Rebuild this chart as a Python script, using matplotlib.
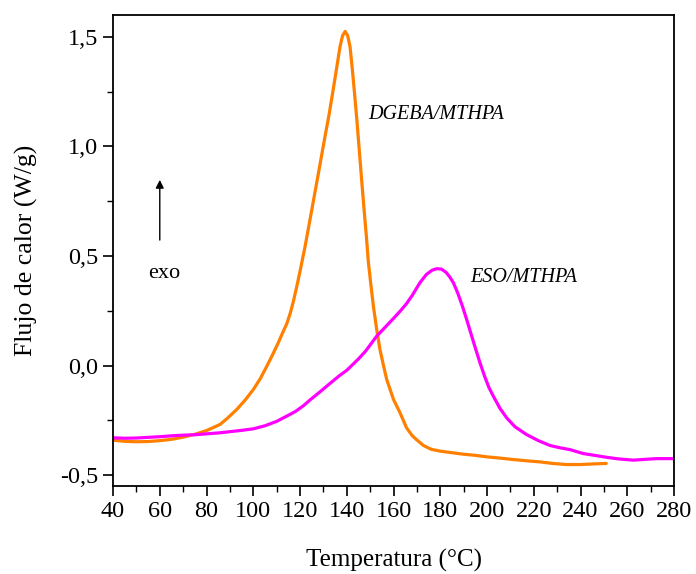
import matplotlib.pyplot as plt
from matplotlib.ticker import MultipleLocator, FuncFormatter

plt.rcParams['font.family'] = ['Liberation Serif', 'DejaVu Serif']

# DGEBA/MTHPA curve
t_dgeba = [40, 45, 50, 55, 60, 65, 70, 75, 80, 85.8, 89, 92.9, 96.5, 100, 103, 105.8,
           108.3, 110.7, 112.5, 114.3, 115.8, 117.1, 118.6, 120, 122.1, 124, 125.7, 128,
           130, 132.5, 134.2, 135.7, 137.1, 138.2, 139.3, 140.4, 141.4, 142.4, 143.3,
           144.3, 145.3, 146.4, 147.5, 148.5, 149.2, 150.3, 151.4, 152.8, 154.2, 155.7,
           157.1, 160, 162.8, 165.6, 168, 170, 172.8, 176, 180, 185, 190, 195, 200, 205,
           211, 217, 222.7, 228, 234, 240, 246, 251]
q_dgeba = [-0.341, -0.346, -0.348, -0.347, -0.343, -0.337, -0.327, -0.314, -0.297,
           -0.269, -0.24, -0.201, -0.158, -0.110, -0.06, -0.003, 0.05, 0.104, 0.148,
           0.19, 0.238, 0.29, 0.36, 0.43, 0.54, 0.65, 0.75, 0.885, 1.005, 1.15, 1.26,
           1.36, 1.455, 1.505, 1.525, 1.505, 1.455, 1.35, 1.245, 1.123, 0.99, 0.842,
           0.70, 0.575, 0.476, 0.37, 0.27, 0.165, 0.073, 0.0, -0.064, -0.155, -0.216,
           -0.285, -0.32, -0.34, -0.365, -0.382, -0.391, -0.398, -0.405, -0.41, -0.417,
           -0.422, -0.429, -0.435, -0.44, -0.447, -0.452, -0.452, -0.449, -0.447]

# ESO/MTHPA curve
t_eso = [40, 45, 50, 55, 60, 65, 70, 75, 80, 85.8, 90, 95, 100, 105, 110, 114.3, 118,
         121.4, 124.3, 128, 132.8, 137, 140, 145, 148, 152.8, 156, 160, 163, 165.6, 168,
         171.3, 174, 176.5, 178.5, 180.5, 182.5, 184, 185.6, 187.5, 189.5, 191.3, 193,
         195, 197, 199, 200.8, 202.7, 205.5, 208.4, 212, 216.9, 222, 226.9, 231, 235.5,
         241.2, 246, 251.2, 256, 262.6, 268, 272.6, 279.7]
q_eso = [-0.33, -0.332, -0.331, -0.328, -0.325, -0.321, -0.318, -0.316, -0.312, -0.307,
         -0.302, -0.296, -0.289, -0.275, -0.255, -0.231, -0.21, -0.184, -0.157, -0.125,
         -0.082, -0.045, -0.022, 0.03, 0.065, 0.134, 0.17, 0.215, 0.25, 0.283, 0.32,
         0.378, 0.415, 0.435, 0.442, 0.44, 0.425, 0.405, 0.378, 0.33, 0.27, 0.21, 0.15,
         0.08, 0.012, -0.05, -0.1, -0.14, -0.195, -0.239, -0.28, -0.315, -0.343, -0.365,
         -0.375, -0.384, -0.402, -0.41, -0.419, -0.426, -0.432, -0.428, -0.425, -0.425]

fig = plt.figure(figsize=(6.96, 5.74), dpi=100)
ax = fig.add_axes([0.1624, 0.1533, 0.8060, 0.8206])

ax.plot(t_dgeba, q_dgeba, color='#ff8000', lw=2.3, solid_capstyle='round',
        solid_joinstyle='round')
ax.plot(t_eso, q_eso, color='#ff00ff', lw=2.3, solid_capstyle='round',
        solid_joinstyle='round')

ax.set_xlim(40, 280)
ax.set_ylim(-0.55, 1.6)
ax.xaxis.set_major_locator(MultipleLocator(20))
ax.xaxis.set_minor_locator(MultipleLocator(10))
ax.yaxis.set_major_locator(MultipleLocator(0.5))
ax.yaxis.set_minor_locator(MultipleLocator(0.25))
ax.yaxis.set_major_formatter(FuncFormatter(lambda v, p: f'{v:.1f}'.replace('.', ',')))
ax.tick_params(which='major', direction='out', length=7, width=1.2, labelsize=17.5)
ax.tick_params(which='minor', direction='out', length=4, width=1.0)
for s in ax.spines.values():
    s.set_linewidth(1.3)

ax.set_xlabel('Temperatura (°C)', fontsize=18, labelpad=20)
ax.set_ylabel('Flujo de calor (W/g)', fontsize=18.5, labelpad=16)

ax.text(149.1, 1.146, 'DGEBA/MTHPA', fontsize=14.5, style='italic', ha='left', va='center')
ax.text(192.7, 0.40, 'ESO/MTHPA', fontsize=14.5, style='italic', ha='left', va='center')
ax.annotate('', xy=(60, 0.86), xytext=(60, 0.56),
            arrowprops=dict(arrowstyle='-|>', color='black', lw=1.0, mutation_scale=12))
ax.text(62, 0.42, 'exo', fontsize=16, ha='center', va='center')

fig.savefig('out.png', dpi=100)
